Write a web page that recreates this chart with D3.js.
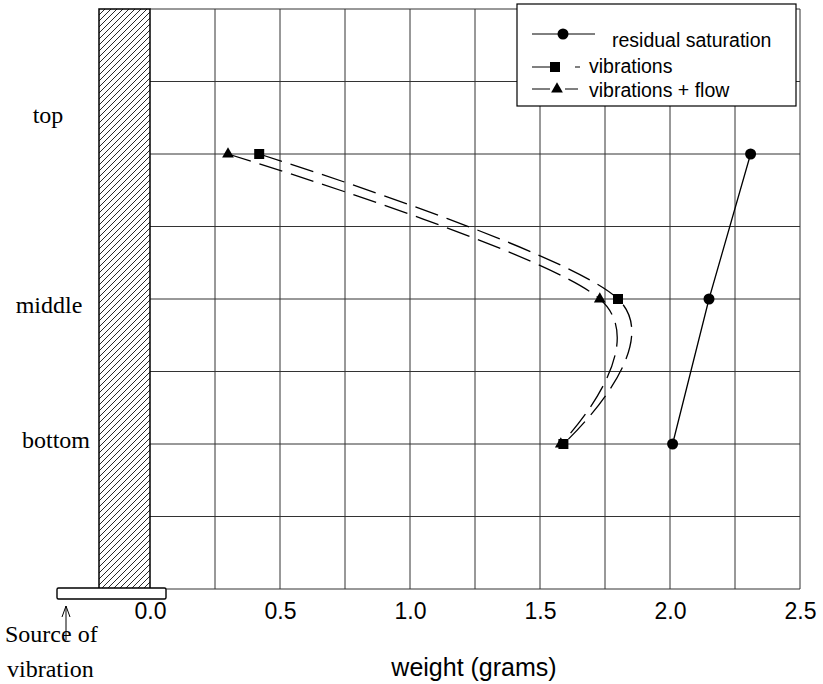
<!DOCTYPE html>
<html>
<head>
<meta charset="utf-8">
<script src="https://cdn.jsdelivr.net/npm/d3@7"></script>
<style>
  body { margin: 0; background: #fff; }
  svg { display: block; }
</style>
</head>
<body>
<div id="chart"></div>
<script>
// data (weight in grams at three heights)
let levelNames = ['bottom', 'middle', 'top'];
let levelValues = [2, 4, 6];
let residual = [2.01, 2.15, 2.31];
let vibrations = [1.59, 1.80, 0.42];
let vibrationsFlow = [1.58, 1.73, 0.30];
let xTicks = [0.0, 0.5, 1.0, 1.5, 2.0, 2.5];
let xGrid = [0.25, 0.5, 0.75, 1.0, 1.25, 1.5, 1.75, 2.0, 2.25, 2.5];
let yGrid = [1, 2, 3, 4, 5, 6, 7, 8];
let seriesNames = ['residual saturation', 'vibrations', 'vibrations + flow'];

let width = 823, height = 684;

let x = d3.scaleLinear().domain([0, 2.5]).range([150, 800]);
let y = d3.scaleLinear().domain([0, 8]).range([589, 9]);

let svg = d3.select('#chart')
    .append('svg')
    .attr('width', width)
    .attr('height', height);

// hatch pattern for the wall
svg.append('defs')
    .append('pattern')
    .attr('id', 'hatch')
    .attr('patternUnits', 'userSpaceOnUse')
    .attr('width', 6)
    .attr('height', 6)
    .append('path')
    .attr('d', 'M0,6 L6,0 M-1,1 L1,-1 M5,7 L7,5')
    .attr('stroke', '#111')
    .attr('stroke-width', 0.9);

let grid = svg.append('g').attr('stroke', '#333').attr('stroke-width', 1);

grid.selectAll('line.v')
    .data(xGrid)
    .enter()
    .append('line')
    .attr('class', 'v')
    .attr('x1', d => x(d)).attr('x2', d => x(d))
    .attr('y1', y(0)).attr('y2', y(8));

grid.selectAll('line.h')
    .data(yGrid)
    .enter()
    .append('line')
    .attr('class', 'h')
    .attr('x1', x(0)).attr('x2', x(2.5))
    .attr('y1', d => y(d)).attr('y2', d => y(d));

// bottom axis line
grid.append('line')
    .attr('x1', 60).attr('x2', x(2.5))
    .attr('y1', y(0)).attr('y2', y(0));

// hatched wall
svg.append('rect')
    .attr('x', 99)
    .attr('y', y(8))
    .attr('width', x(0) - 99)
    .attr('height', y(0) - y(8))
    .attr('fill', 'url(#hatch)')
    .attr('stroke', '#000')
    .attr('stroke-width', 1.5);

// source of vibration plate
svg.append('rect')
    .attr('x', 57)
    .attr('y', 588)
    .attr('width', 109)
    .attr('height', 11)
    .attr('rx', 1.5)
    .attr('fill', '#fff')
    .attr('stroke', '#000')
    .attr('stroke-width', 1.4);

// x tick labels
let xAxis = d3.axisBottom(x).tickValues(xTicks).tickSize(0).tickPadding(14)
    .tickFormat(d3.format('.1f'));
let gx = svg.append('g')
    .attr('transform', `translate(0,${y(0)})`)
    .call(xAxis);
gx.select('.domain').remove();
gx.selectAll('text')
    .attr('font-family', 'Liberation Sans, Arial, sans-serif')
    .attr('font-size', 23)
    .attr('fill', '#000');

svg.append('text')
    .attr('x', 474)
    .attr('y', 676)
    .attr('text-anchor', 'middle')
    .attr('font-family', 'Liberation Sans, Arial, sans-serif')
    .attr('font-size', 25)
    .text('weight (grams)');

// height labels on the left
let labelShift = { top: -39, middle: 6, bottom: -4 };
svg.selectAll('text.level')
    .data(levelNames)
    .enter()
    .append('text')
    .attr('class', 'level')
    .attr('x', (d) => d === 'middle' ? 49 : (d === 'top' ? 48 : 56))
    .attr('y', (d, i) => y(levelValues[i]) + labelShift[d] + 8)
    .attr('text-anchor', 'middle')
    .attr('font-family', 'Liberation Serif, Times New Roman, serif')
    .attr('font-size', 24)
    .text(d => d);

// arrow and caption
svg.append('path')
    .attr('d', 'M66,640 L66,606 M62,617 L66,606 L70,617')
    .attr('fill', 'none')
    .attr('stroke', '#000')
    .attr('stroke-width', 1);

svg.append('text')
    .attr('x', 5).attr('y', 642)
    .attr('font-family', 'Liberation Serif, Times New Roman, serif')
    .attr('font-size', 24)
    .text('Source of');
svg.append('text')
    .attr('x', 7).attr('y', 677)
    .attr('font-family', 'Liberation Serif, Times New Roman, serif')
    .attr('font-size', 24)
    .text('vibration');

// curves
let toPoints = vals => vals.map((v, i) => [v, levelValues[i]]);

let solid = d3.line().x(d => x(d[0])).y(d => y(d[1]));
let smooth = d3.line().x(d => x(d[0])).y(d => y(d[1])).curve(d3.curveCardinal);

svg.append('path')
    .attr('d', solid(toPoints(residual)))
    .attr('fill', 'none')
    .attr('stroke', '#000')
    .attr('stroke-width', 1.3);

[vibrations, vibrationsFlow].forEach(s => {
    svg.append('path')
        .attr('d', smooth(toPoints(s).reverse()))
        .attr('fill', 'none')
        .attr('stroke', '#000')
        .attr('stroke-width', 1.3)
        .attr('stroke-dasharray', '24,9');
});

// markers
let marks = svg.append('g').attr('fill', '#000');

marks.selectAll('circle')
    .data(toPoints(residual))
    .enter()
    .append('circle')
    .attr('cx', d => x(d[0]))
    .attr('cy', d => y(d[1]))
    .attr('r', 5.5);

marks.selectAll('rect')
    .data(toPoints(vibrations))
    .enter()
    .append('rect')
    .attr('x', d => x(d[0]) - 5)
    .attr('y', d => y(d[1]) - 5)
    .attr('width', 10)
    .attr('height', 10);

let tri = d3.symbol().type(d3.symbolTriangle).size(60);
marks.selectAll('path.tri')
    .data(toPoints(vibrationsFlow))
    .enter()
    .append('path')
    .attr('class', 'tri')
    .attr('transform', d => `translate(${x(d[0])},${y(d[1])})`)
    .attr('d', tri);

// legend
let legend = svg.append('g');
legend.append('rect')
    .attr('x', 517).attr('y', 4)
    .attr('width', 279).attr('height', 102)
    .attr('fill', '#fff')
    .attr('stroke', '#000')
    .attr('stroke-width', 1.2);

let rowY = [34, 67, 89];
let textY = [47, 73, 97];
let textX = [612, 589, 589];

legend.selectAll('text')
    .data(seriesNames)
    .enter()
    .append('text')
    .attr('x', (d, i) => textX[i])
    .attr('y', (d, i) => textY[i])
    .attr('font-family', 'Liberation Sans, Arial, sans-serif')
    .attr('font-size', 19.5)
    .text(d => d);

legend.append('line')
    .attr('x1', 532).attr('x2', 595)
    .attr('y1', rowY[0]).attr('y2', rowY[0])
    .attr('stroke', '#000');
legend.append('circle')
    .attr('cx', 563).attr('cy', rowY[0]).attr('r', 5.5);

legend.append('line')
    .attr('x1', 532).attr('x2', 551)
    .attr('y1', rowY[1]).attr('y2', rowY[1])
    .attr('stroke', '#000');
legend.append('line')
    .attr('x1', 575).attr('x2', 580)
    .attr('y1', rowY[1]).attr('y2', rowY[1])
    .attr('stroke', '#000');
legend.append('rect')
    .attr('x', 550).attr('y', rowY[1] - 5)
    .attr('width', 10).attr('height', 10);

legend.append('line')
    .attr('x1', 532).attr('x2', 550)
    .attr('y1', rowY[2]).attr('y2', rowY[2])
    .attr('stroke', '#000');
legend.append('line')
    .attr('x1', 565).attr('x2', 578)
    .attr('y1', rowY[2]).attr('y2', rowY[2])
    .attr('stroke', '#000');
legend.append('path')
    .attr('transform', `translate(557,${rowY[2]})`)
    .attr('d', tri);
</script>
</body>
</html>
